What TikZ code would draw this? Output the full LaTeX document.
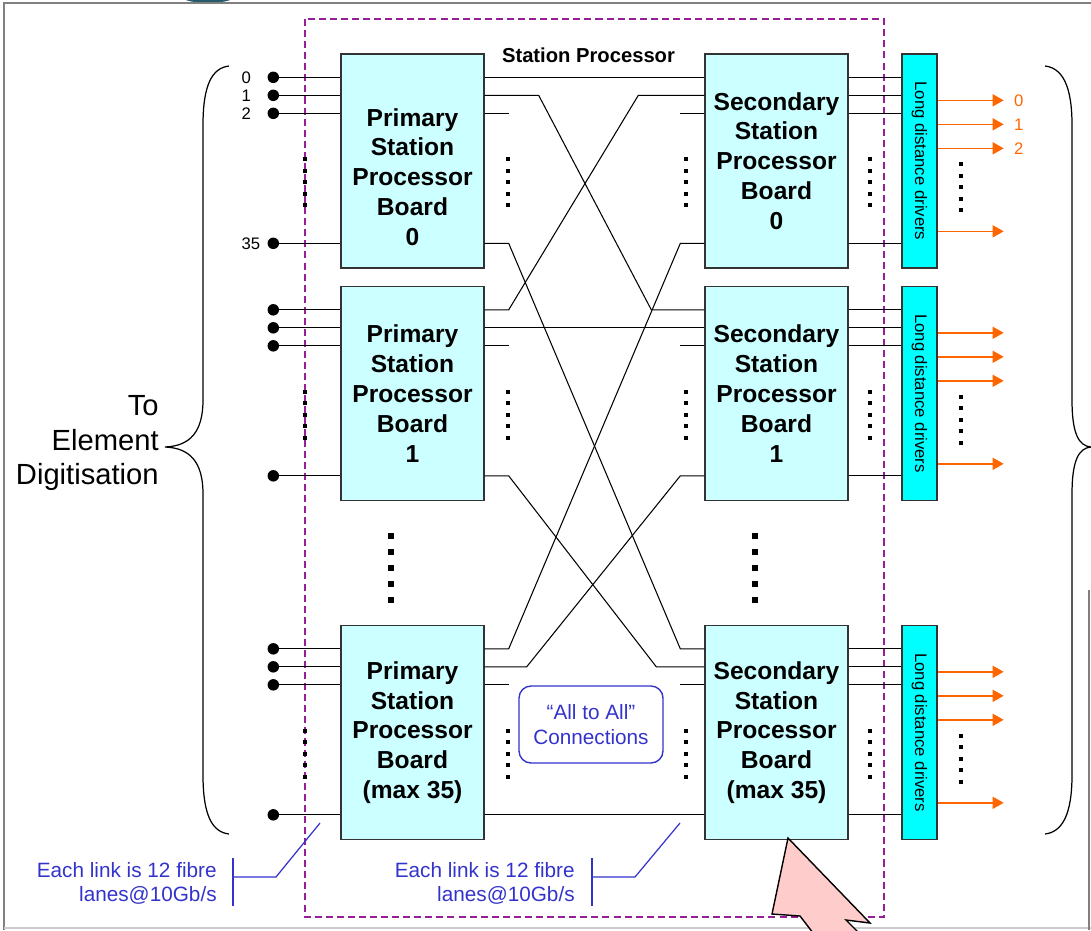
\documentclass[tikz,border=0pt]{standalone}
\usepackage{fontspec}
\setmainfont{Liberation Sans}
\usetikzlibrary{arrows.meta,positioning,calc}
\definecolor{boardcyan}{RGB}{204,255,255}
\definecolor{drivercyan}{RGB}{0,255,255}
\definecolor{fenceviolet}{RGB}{150,30,150}
\definecolor{noteblue}{RGB}{51,51,204}
\definecolor{outorange}{RGB}{255,102,0}
\definecolor{pointerpink}{RGB}{255,204,204}
\definecolor{framegray}{RGB}{128,128,128}
\definecolor{logoteal}{RGB}{40,90,110}

\begin{document}
\begin{tikzpicture}[
  x=0.02cm, y=-0.02cm, >=Latex,
  every node/.style={font=\fontsize{9.5}{11}\selectfont,align=center,inner sep=0pt},
  board/.style={draw=black!80,line width=0.8pt,fill=boardcyan,minimum width=2.86cm,minimum height=4.28cm,font=\fontsize{14}{17}\selectfont\bfseries},
  driver/.style={draw=black!80,line width=0.8pt,fill=drivercyan,minimum width=0.7cm,minimum height=4.28cm},
  jack/.style={circle,fill=black,minimum size=0.23cm},
  tag/.style={anchor=west},
  wire/.style={line width=0.6pt},
  feed/.style={-{Triangle[length=2.2mm,width=2.4mm]},draw=outorange,line width=0.8pt},
  fence/.style={draw=fenceviolet,line width=0.8pt,dash pattern=on 4pt off 2.3pt},
  note/.style={text=noteblue,font=\fontsize{11.8}{13.6}\selectfont,align=right},
  noteline/.style={draw=noteblue,line width=0.7pt},
  allbox/.style={draw=noteblue,text=noteblue,line width=0.8pt,rounded corners=0.24cm,minimum width=2.88cm,minimum height=1.54cm,font=\fontsize{11.8}{14}\selectfont},
  brace/.style={line width=0.7pt}]
\useasboundingbox (0,0) rectangle (1091,930);
% slide frame
\fill[logoteal] (208,-6) ellipse (30 and 9);
\draw[framegray,line width=1.2pt] (4,930) -- (4,3) -- (1091,3);
\draw[black!20,line width=1pt] (4,928) -- (1091,928);
\draw[framegray,line width=1pt] (1089,590) -- (1089,930);
\draw[fence] (305,19) rectangle (884,917);
% boards, lanes and drivers
\foreach \i/\c/\lbl/\pre in {0/161/0/{\rule{0pt}{28.3pt}},1/393.5/1/{\relax},2/732.5/{(max 35)}/{\relax}} {
  \node[board] (p\i) at (412.5,\c) {\pre Primary\\Station\\Processor\\Board\\\lbl};
  \node[board] (s\i) at (776.5,\c) {Secondary\\Station\\Processor\\Board\\\lbl};
  \node[driver] (d\i) at (919.5,\c) {\rotatebox{-90}{Long distance drivers}};
  \foreach \l/\dy in {a/24,b/42,c/60,z/190} {
    \coordinate (pw\i\l) at ($(p\i.north west)+(0,\dy)$);
    \coordinate (pe\i\l) at ($(p\i.north east)+(0,\dy)$);
    \coordinate (sw\i\l) at ($(s\i.north west)+(0,\dy)$);
    \coordinate (se\i\l) at ($(s\i.north east)+(0,\dy)$);
    \node[jack] (in\i\l) at ($(pw\i\l)+(-67,0)$) {};
    \draw[wire] (in\i\l) -- (pw\i\l);
    \draw[wire] (se\i\l) -- (se\i\l -| d\i.west);
  }
  \foreach \dy in {47,71,95,178} \draw[feed] ($(d\i.north east)+(0,\dy)$) -- ++(66,0);
  \draw[wire] (pe\i c) -- ++(24,0); \draw[wire] (sw\i c) -- ++(-24,0);
  \foreach \x in {305,508,686,870} \foreach \k in {0,...,4}
    \fill ({\x-2},{\c-4+11.5*\k}) rectangle ++(4,4);
  \foreach \k in {0,...,4} \fill ({961-2},{\c+1+11.5*\k}) rectangle ++(4,4);
}
% input numbers and output numbers
\node[tag] at ($(in0a)+(-32,0)$) {0}; \node[tag] at ($(in0b)+(-32,0)$) {1};
\node[tag] at ($(in0c)+(-32,0)$) {2}; \node[tag] at ($(in0z)+(-32,0)$) {35};
\node[tag,text=outorange] at ($(d0.north east)+(76,47)$) {0};
\node[tag,text=outorange] at ($(d0.north east)+(76,71)$) {1};
\node[tag,text=outorange] at ($(d0.north east)+(76,95)$) {2};
% all to all links
\draw[wire] (pe0a) -- (sw0a); \draw[wire] (pe1b) -- (sw1b); \draw[wire] (pe2z) -- (sw2z);
\draw[wire] (pe0b) -- ++(54,0) -- ($(sw1a)+(-53,0)$) -- (sw1a);
\draw[wire] (pe0z) -- ++(24,0) -- ($(sw2a)+(-24,0)$) -- (sw2a);
\draw[wire] (pe1a) -- ++(24,0) -- ($(sw0b)+(-66,0)$) -- (sw0b);
\draw[wire] (pe1z) -- ++(24,0) -- ($(sw2b)+(-48,0)$) -- (sw2b);
\draw[wire] (pe2a) -- ++(24,0) -- ($(sw0z)+(-24,0)$) -- (sw0z);
\draw[wire] (pe2b) -- ++(42,0) -- ($(sw1z)+(-24,0)$) -- (sw1z);
\foreach \x in {391,755} \foreach \k in {0,...,4} \fill ({\x-3},{536+16*\k-3}) rectangle ++(6,6);
\node[font=\fontsize{11.5}{13}\selectfont\bfseries] (title) at ($($(p0.north east)!0.5!(s0.north west)$)+(-6,2)$) {Station Processor};
\node[allbox] (a2a) at (591,724.5) {“All to All”\\Connections};
% element digitisation braces
\node[anchor=east,align=right,font=\fontsize{16.6}{19.8}\selectfont] (elem) at (159,443) {To\\Element\\Digitisation};
\draw[brace] (229,66) .. controls (212,68) and (203,85) .. (203,125) -- (203,400) .. controls (203,432) and (190,446) .. (165,447) .. controls (190,448) and (203,462) .. (203,494) -- (203,775) .. controls (203,815) and (212,832) .. (229,834);
\draw[brace] (1045,66) .. controls (1062,68) and (1072,85) .. (1072,125) -- (1072,400) .. controls (1072,432) and (1078,446) .. (1091,447) .. controls (1078,448) and (1072,462) .. (1072,494) -- (1072,775) .. controls (1072,815) and (1062,832) .. (1045,834);
% link notes
\node[note,anchor=east] (n1) at (217,883) {Each link is 12 fibre\\lanes@10Gb/s};
\node[note,anchor=east] (n2) at (575,883) {Each link is 12 fibre\\lanes@10Gb/s};
\coordinate (n1tip) at (320,823); \coordinate (n2tip) at (680,823);
\draw[noteline] ($(n1.east)+(16,-25)$) -- ($(n1.east)+(16,23)$); \draw[noteline] ($(n1.east)+(16,-6)$) -- ++(43,0) -- (n1tip);
\draw[noteline] ($(n2.east)+(17,-25)$) -- ($(n2.east)+(17,23)$); \draw[noteline] ($(n2.east)+(17,-6)$) -- ++(43,0) -- (n2tip);
% pointer
\filldraw[fill=pointerpink,draw=black,line width=0.8pt] (788,838) -- (772,914) -- (800,916) -- (820,942) -- (868,942) -- (846,920) -- (870,923) -- cycle;
\end{tikzpicture}
\end{document}
